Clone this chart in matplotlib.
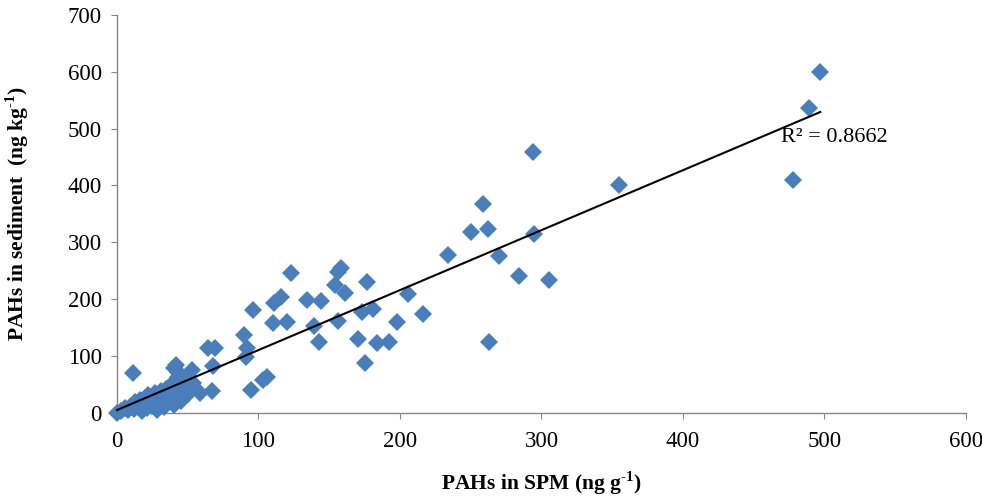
import matplotlib
matplotlib.use('Agg')
import matplotlib.pyplot as plt
import numpy as np

plt.rcParams['font.family'] = ['Liberation Serif', 'DejaVu Serif']
plt.rcParams['mathtext.fontset'] = 'custom'
plt.rcParams['mathtext.rm'] = 'Liberation Serif:bold'
plt.rcParams['mathtext.bf'] = 'Liberation Serif:bold'

# PAHs in SPM (ng/g) vs PAHs in sediment (ng/kg)
spm = [497, 489, 478, 355, 294, 259, 250, 262, 295, 234, 270, 284, 305, 263,
       206, 216, 198, 192, 184, 181, 177, 173, 170, 175, 158, 156, 154, 161,
       144, 156, 143, 139, 134, 123, 116, 111, 96, 110, 120, 90, 92, 91, 95,
       103, 106, 64, 69, 68, 67, 59, 50, 11, 0,
       40, 42, 43, 53, 3, 6, 8, 10, 12, 13, 15, 16, 18, 20, 21, 22, 24, 25,
       27, 28, 30, 31, 32, 34, 35, 36, 38, 38, 41, 43, 45, 47, 50, 54, 33,
       28, 18, 40, 45]
sediment = [600, 537, 410, 400, 458, 367, 318, 324, 314, 277, 275, 240, 233, 124,
            209, 173, 159, 125, 123, 182, 229, 177, 129, 88, 255, 248, 224, 211,
            197, 162, 124, 153, 199, 246, 204, 193, 180, 157, 160, 137, 113, 97, 40,
            57, 62, 113, 114, 82, 38, 35, 33, 70, 0,
            78, 84, 72, 75, 2, 8, 4, 12, 6, 18, 10, 22, 14, 26, 8, 30, 18, 12,
            34, 22, 16, 38, 28, 20, 42, 32, 24, 48, 36, 62, 45, 58, 65, 52, 10,
            5, 3, 14, 20]
r2_label = 'R² = 0.8662'

fig = plt.figure(figsize=(9.82, 4.99), dpi=100)
ax = fig.add_axes([0.1191, 0.1733, 0.8646, 0.7967])

ax.plot(spm, sediment, linestyle='none', marker='D', markersize=8.8,
        color='#4a7ebb', markeredgewidth=0, clip_on=False, zorder=3)

# linear trendline over the data range
x = np.array(spm, dtype=float)
y = np.array(sediment, dtype=float)
k, b = np.polyfit(x, y, 1)
xs = np.array([x.min(), x.max()])
ax.plot(xs, k * xs + b, color='black', linewidth=1.5, zorder=4, clip_on=False)

ax.text(469, 485, r2_label, fontsize=16, ha='left', va='center', zorder=5)

ax.set_xlim(0, 600)
ax.set_ylim(0, 700)
ax.set_xticks(range(0, 601, 100))
ax.set_yticks(range(0, 701, 100))

for side in ['top', 'right']:
    ax.spines[side].set_visible(False)
for side in ['left', 'bottom']:
    ax.spines[side].set_color('#868686')
    ax.spines[side].set_linewidth(1)
ax.tick_params(axis='both', direction='out', color='#868686', length=4,
               labelsize=16.5)
ax.tick_params(axis='y', pad=7)
ax.tick_params(axis='x', pad=9)

ax.set_xlabel(r'PAHs in SPM (ng g$^{\text{-1}}$)', fontsize=15.5,
              fontweight='bold', labelpad=13)
ax.set_ylabel(r'PAHs in sediment  (ng kg$^{\text{-1}}$)', fontsize=15.5,
              fontweight='bold', labelpad=26)

plt.savefig('out.png', dpi=100)
plt.close()
